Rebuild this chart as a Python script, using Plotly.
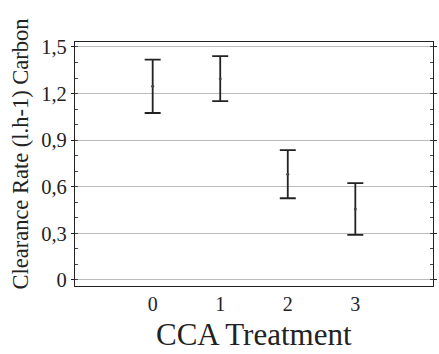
import plotly.graph_objects as go

# CCA treatment groups and clearance rates (mean ± error)
treatments = [0, 1, 2, 3]
clearance_mean = [1.247, 1.296, 0.681, 0.457]
clearance_err = [0.172, 0.145, 0.155, 0.167]

y_ticks = [0, 0.3, 0.6, 0.9, 1.2, 1.5]
y_tick_labels = ["0", "0,3", "0,6", "0,9", "1,2", "1,5"]
x_tick_labels = ["0", "1", "2", "3"]

serif = "Liberation Serif, Times New Roman, serif"

fig = go.Figure()
fig.add_trace(go.Scatter(
    x=treatments,
    y=clearance_mean,
    mode="markers",
    marker=dict(color="#444444", size=3),
    error_y=dict(type="data", array=clearance_err, visible=True,
                 color="#222222", thickness=1.8, width=8),
    showlegend=False,
))

fig.update_layout(
    width=439, height=354,
    margin=dict(l=75, r=2, t=42, b=68),
    paper_bgcolor="white", plot_bgcolor="white",
    font=dict(family=serif, color="#222222"),
    xaxis=dict(
        range=[-1.15, 4.15],
        tickvals=treatments, ticktext=x_tick_labels,
        showgrid=False, zeroline=False,
        showline=True, linecolor="#222222", linewidth=1.2, mirror=True,
        ticks="",
        tickfont=dict(size=20, family=serif),
    ),
    yaxis=dict(
        range=[-0.039, 1.532],
        tickvals=y_ticks, ticktext=y_tick_labels,
        showgrid=True, gridcolor="#bbbbbb", gridwidth=1,
        zeroline=False,
        showline=True, linecolor="#222222", linewidth=1.2, mirror="ticks",
        ticks="outside", ticklen=3, tickcolor="#222222",
        minor=dict(dtick=0.1, ticks="inside", ticklen=3, tickcolor="#444444", showgrid=False),
        tickfont=dict(size=20.5, family=serif),
    ),
    annotations=[
        dict(text="CCA Treatment", xref="paper", yref="paper",
             x=0.5, y=-0.2, xanchor="center", yanchor="middle",
             showarrow=False, font=dict(size=31, family=serif, color="#222222")),
        dict(text="Clearance Rate (l.h-1) Carbon", xref="paper", yref="paper",
             x=-0.152, y=0.541, xanchor="center", yanchor="middle", textangle=-90,
             showarrow=False, font=dict(size=22.5, family=serif, color="#222222")),
    ],
)

fig.write_html("out.html")
